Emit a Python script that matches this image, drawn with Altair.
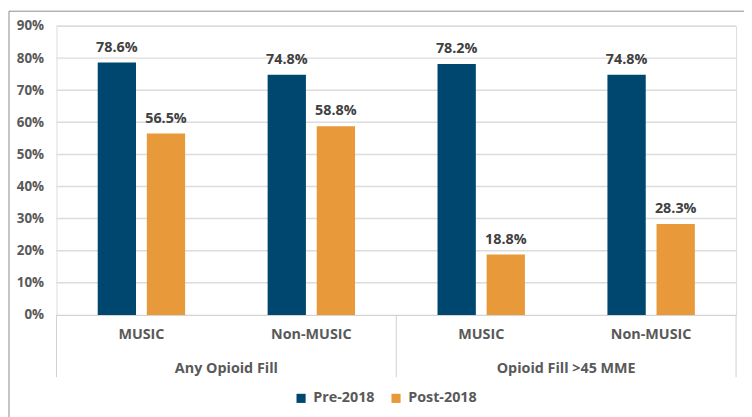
import altair as alt
import pandas as pd

groups = ["Any Opioid Fill", "Any Opioid Fill", "Opioid Fill >45 MME", "Opioid Fill >45 MME"]
cohorts = ["MUSIC", "Non-MUSIC", "MUSIC", "Non-MUSIC"]
pre_2018 = [78.6, 74.8, 78.2, 74.8]
post_2018 = [56.5, 58.8, 18.8, 28.3]
series = ["Pre-2018", "Post-2018"]
colors = ["#00476F", "#E8993A"]
y_ticks = [0.0, 0.1, 0.2, 0.3, 0.4, 0.5, 0.6, 0.7, 0.8, 0.9]

keys = [f"{g}|{c}" for g, c in zip(groups, cohorts)]
rows = []
for k, a, b in zip(keys, pre_2018, post_2018):
    rows.append({"key": k, "series": "Pre-2018", "value": a / 100, "label": f"{a:.1f}%"})
    rows.append({"key": k, "series": "Post-2018", "value": b / 100, "label": f"{b:.1f}%"})
df = pd.DataFrame(rows)

W, H = 687, 292
FONT = "Open Sans"
GRAY = "#595959"

xaxis = alt.Axis(title=None, labelExpr="split(datum.value, '|')[1]", labelAngle=0,
                 ticks=False, domain=True, domainColor="#d0d0d0", labelPadding=13, grid=False,
                 labelFont=FONT, labelFontSize=14.5, labelFontWeight="bold",
                 labelColor=GRAY)
yaxis = alt.Axis(title=None, format=".0%", values=y_ticks, tickCount=10,
                 labelOverlap=False, grid=False,
                 ticks=False, domain=False, labelPadding=13,
                 labelFont=FONT, labelFontSize=13.5, labelFontWeight="bold",
                 labelColor=GRAY)

xscale = alt.Scale(domain=keys, paddingInner=0, paddingOuter=0)
xoff = alt.XOffset("series:N", sort=series, scale=alt.Scale(domain=series, paddingInner=0.22, paddingOuter=0.84))
yscale = alt.Scale(domain=[0, 0.9], nice=False)
color = alt.Color("series:N", sort=series,
                  scale=alt.Scale(domain=series, range=colors),
                  legend=alt.Legend(title=None, orient="none", direction="horizontal",
                                    legendX=240, legendY=369, symbolType="square",
                                    symbolSize=85, symbolStrokeWidth=0,
                                    labelFont=FONT, labelFontSize=14.5, labelFontWeight="bold",
                                    labelColor=GRAY, columnPadding=14, labelOffset=5))

grid = alt.Chart(pd.DataFrame({"tick": y_ticks[1:]})).mark_rule(color="#dcdcdc", strokeWidth=1.5).encode(
    x=alt.value(0), x2=alt.value(W),
    y=alt.Y("tick:Q", scale=yscale, axis=yaxis),
)

base = alt.Chart(df)

bars = base.mark_bar().encode(
    x=alt.X("key:N", scale=xscale, sort=keys, axis=xaxis),
    xOffset=xoff,
    y=alt.Y("value:Q", scale=yscale, axis=yaxis),
    color=color,
)

labels = base.mark_text(baseline="bottom", dy=-8, font=FONT, fontSize=14.5,
                        fontWeight="bold", color="#404040").encode(
    x=alt.X("key:N", scale=xscale, sort=keys, axis=xaxis),
    xOffset=xoff,
    y=alt.Y("value:Q", scale=yscale, axis=yaxis),
    text="label:N",
)

outer = pd.DataFrame({"key": [keys[0], keys[2]], "label": [groups[0], groups[2]]})
outer_text = alt.Chart(outer).mark_text(baseline="middle", font=FONT, fontSize=14.5,
                                        fontWeight="bold", color=GRAY).encode(
    x=alt.X("key:N", scale=xscale, sort=keys, bandPosition=1, axis=xaxis),
    y=alt.value(H + 55),
    text="label:N",
)

sep_left = alt.Chart(pd.DataFrame({"key": [keys[0], keys[2]]})).mark_rule(color="#cfcfcf").encode(
    x=alt.X("key:N", scale=xscale, sort=keys, bandPosition=0, axis=xaxis),
    y=alt.value(H), y2=alt.value(H + 63),
)
sep_right = alt.Chart(pd.DataFrame({"key": [keys[3]]})).mark_rule(color="#cfcfcf").encode(
    x=alt.X("key:N", scale=xscale, sort=keys, bandPosition=1, axis=xaxis),
    y=alt.value(H), y2=alt.value(H + 63),
)

border = alt.Chart(pd.DataFrame({"a": [0]})).mark_rect(fill="transparent", stroke="#8c8c8c",
                                                         strokeWidth=1).encode(
    x=alt.value(-48), x2=alt.value(760), y=alt.value(-15), y2=alt.value(420),
)

chart = alt.layer(grid, bars, labels, outer_text, sep_left, sep_right, border).properties(
    width=W, height=H,
    autosize=alt.AutoSizeParams(type="none"),
    padding={"left": 49, "top": 16, "right": 8, "bottom": 101},
).configure_view(stroke=None).configure(background="white")

chart.save("out.html", embed_options={"renderer": "svg", "actions": False})
